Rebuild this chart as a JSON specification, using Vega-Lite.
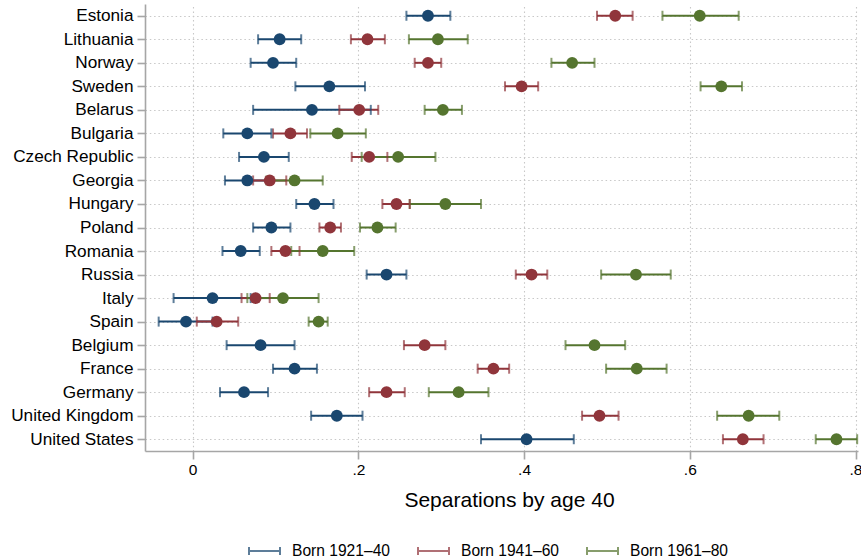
{
  "$schema": "https://vega.github.io/schema/vega-lite/v6.json",
  "width": 713,
  "height": 447,
  "autosize": {"type": "none"},
  "padding": {"left": 145, "top": 4, "right": 3, "bottom": 109},
  "background": "white",
  "config": {
    "view": {"stroke": null},
    "font": "Liberation Sans",
    "axis": {
      "labelFont": "Liberation Sans",
      "titleFont": "Liberation Sans",
      "labelColor": "#000000",
      "titleColor": "#000000",
      "domainColor": "#a6a6a6",
      "domainWidth": 1.6,
      "tickColor": "#a6a6a6",
      "tickWidth": 1.6,
      "gridColor": "#c8c8c8",
      "gridDash": [1.5, 2.8],
      "gridWidth": 1.1
    },
    "legend": {
      "labelFont": "Liberation Sans",
      "labelColor": "#000000"
    }
  },
  "data": {
    "values": [
      {"country": "Estonia", "cohort": "Born 1921–40", "est": 0.284, "lo": 0.258, "hi": 0.311},
      {"country": "Estonia", "cohort": "Born 1941–60", "est": 0.510, "lo": 0.488, "hi": 0.531},
      {"country": "Estonia", "cohort": "Born 1961–80", "est": 0.612, "lo": 0.567, "hi": 0.659},
      {"country": "Lithuania", "cohort": "Born 1921–40", "est": 0.105, "lo": 0.079, "hi": 0.131},
      {"country": "Lithuania", "cohort": "Born 1941–60", "est": 0.211, "lo": 0.191, "hi": 0.232},
      {"country": "Lithuania", "cohort": "Born 1961–80", "est": 0.296, "lo": 0.261, "hi": 0.332},
      {"country": "Norway", "cohort": "Born 1921–40", "est": 0.097, "lo": 0.070, "hi": 0.125},
      {"country": "Norway", "cohort": "Born 1941–60", "est": 0.284, "lo": 0.268, "hi": 0.300},
      {"country": "Norway", "cohort": "Born 1961–80", "est": 0.458, "lo": 0.433, "hi": 0.485},
      {"country": "Sweden", "cohort": "Born 1921–40", "est": 0.165, "lo": 0.124, "hi": 0.208},
      {"country": "Sweden", "cohort": "Born 1941–60", "est": 0.397, "lo": 0.377, "hi": 0.417},
      {"country": "Sweden", "cohort": "Born 1961–80", "est": 0.638, "lo": 0.613, "hi": 0.663},
      {"country": "Belarus", "cohort": "Born 1921–40", "est": 0.144, "lo": 0.073, "hi": 0.215},
      {"country": "Belarus", "cohort": "Born 1941–60", "est": 0.201, "lo": 0.177, "hi": 0.224},
      {"country": "Belarus", "cohort": "Born 1961–80", "est": 0.302, "lo": 0.280, "hi": 0.325},
      {"country": "Bulgaria", "cohort": "Born 1921–40", "est": 0.066, "lo": 0.037, "hi": 0.095},
      {"country": "Bulgaria", "cohort": "Born 1941–60", "est": 0.118, "lo": 0.097, "hi": 0.138},
      {"country": "Bulgaria", "cohort": "Born 1961–80", "est": 0.175, "lo": 0.142, "hi": 0.209},
      {"country": "Czech Republic", "cohort": "Born 1921–40", "est": 0.086, "lo": 0.056, "hi": 0.116},
      {"country": "Czech Republic", "cohort": "Born 1941–60", "est": 0.213, "lo": 0.192, "hi": 0.235},
      {"country": "Czech Republic", "cohort": "Born 1961–80", "est": 0.248, "lo": 0.204, "hi": 0.293},
      {"country": "Georgia", "cohort": "Born 1921–40", "est": 0.066, "lo": 0.039, "hi": 0.092},
      {"country": "Georgia", "cohort": "Born 1941–60", "est": 0.093, "lo": 0.073, "hi": 0.113},
      {"country": "Georgia", "cohort": "Born 1961–80", "est": 0.123, "lo": 0.089, "hi": 0.157},
      {"country": "Hungary", "cohort": "Born 1921–40", "est": 0.147, "lo": 0.125, "hi": 0.170},
      {"country": "Hungary", "cohort": "Born 1941–60", "est": 0.246, "lo": 0.229, "hi": 0.262},
      {"country": "Hungary", "cohort": "Born 1961–80", "est": 0.305, "lo": 0.262, "hi": 0.348},
      {"country": "Poland", "cohort": "Born 1921–40", "est": 0.095, "lo": 0.073, "hi": 0.118},
      {"country": "Poland", "cohort": "Born 1941–60", "est": 0.166, "lo": 0.153, "hi": 0.179},
      {"country": "Poland", "cohort": "Born 1961–80", "est": 0.223, "lo": 0.202, "hi": 0.245},
      {"country": "Romania", "cohort": "Born 1921–40", "est": 0.058, "lo": 0.036, "hi": 0.081},
      {"country": "Romania", "cohort": "Born 1941–60", "est": 0.112, "lo": 0.095, "hi": 0.129},
      {"country": "Romania", "cohort": "Born 1961–80", "est": 0.157, "lo": 0.119, "hi": 0.195},
      {"country": "Russia", "cohort": "Born 1921–40", "est": 0.234, "lo": 0.210, "hi": 0.258},
      {"country": "Russia", "cohort": "Born 1941–60", "est": 0.409, "lo": 0.390, "hi": 0.428},
      {"country": "Russia", "cohort": "Born 1961–80", "est": 0.535, "lo": 0.493, "hi": 0.577},
      {"country": "Italy", "cohort": "Born 1921–40", "est": 0.024, "lo": -0.023, "hi": 0.070},
      {"country": "Italy", "cohort": "Born 1941–60", "est": 0.076, "lo": 0.059, "hi": 0.093},
      {"country": "Italy", "cohort": "Born 1961–80", "est": 0.109, "lo": 0.066, "hi": 0.152},
      {"country": "Spain", "cohort": "Born 1921–40", "est": -0.008, "lo": -0.041, "hi": 0.024},
      {"country": "Spain", "cohort": "Born 1941–60", "est": 0.029, "lo": 0.005, "hi": 0.055},
      {"country": "Spain", "cohort": "Born 1961–80", "est": 0.152, "lo": 0.140, "hi": 0.163},
      {"country": "Belgium", "cohort": "Born 1921–40", "est": 0.082, "lo": 0.041, "hi": 0.123},
      {"country": "Belgium", "cohort": "Born 1941–60", "est": 0.280, "lo": 0.255, "hi": 0.305},
      {"country": "Belgium", "cohort": "Born 1961–80", "est": 0.485, "lo": 0.450, "hi": 0.522},
      {"country": "France", "cohort": "Born 1921–40", "est": 0.123, "lo": 0.097, "hi": 0.150},
      {"country": "France", "cohort": "Born 1941–60", "est": 0.363, "lo": 0.344, "hi": 0.382},
      {"country": "France", "cohort": "Born 1961–80", "est": 0.536, "lo": 0.499, "hi": 0.572},
      {"country": "Germany", "cohort": "Born 1921–40", "est": 0.062, "lo": 0.033, "hi": 0.091},
      {"country": "Germany", "cohort": "Born 1941–60", "est": 0.234, "lo": 0.213, "hi": 0.256},
      {"country": "Germany", "cohort": "Born 1961–80", "est": 0.321, "lo": 0.285, "hi": 0.357},
      {"country": "United Kingdom", "cohort": "Born 1921–40", "est": 0.174, "lo": 0.143, "hi": 0.205},
      {"country": "United Kingdom", "cohort": "Born 1941–60", "est": 0.491, "lo": 0.470, "hi": 0.514},
      {"country": "United Kingdom", "cohort": "Born 1961–80", "est": 0.671, "lo": 0.633, "hi": 0.708},
      {"country": "United States", "cohort": "Born 1921–40", "est": 0.403, "lo": 0.348, "hi": 0.460},
      {"country": "United States", "cohort": "Born 1941–60", "est": 0.664, "lo": 0.640, "hi": 0.689},
      {"country": "United States", "cohort": "Born 1961–80", "est": 0.777, "lo": 0.752, "hi": 0.802}
    ]
  },
  "encoding": {
    "y": {
      "field": "country",
      "type": "nominal",
      "sort": ["Estonia", "Lithuania", "Norway", "Sweden", "Belarus", "Bulgaria", "Czech Republic", "Georgia", "Hungary", "Poland", "Romania", "Russia", "Italy", "Spain", "Belgium", "France", "Germany", "United Kingdom", "United States"],
      "scale": {"type": "point", "padding": 0.5},
      "axis": {
        "title": null,
        "grid": true,
        "tickSize": 8,
        "labelPadding": 4,
        "labelFontSize": 17.2
      }
    },
    "color": {
      "field": "cohort",
      "type": "nominal",
      "scale": {
        "domain": ["Born 1921–40", "Born 1941–60", "Born 1961–80"],
        "range": ["#1a476f", "#90353b", "#55752f"]
      },
      "legend": {
        "title": null,
        "orient": "none",
        "direction": "horizontal",
        "legendX": 103,
        "legendY": 530,
        "labelFontSize": 15.6,
        "labelOffset": 11,
        "columnPadding": 24,
        "symbolType": "M-1,0H1M-1,-0.26V0.26M1,-0.26V0.26",
        "symbolSize": 961,
        "symbolStrokeWidth": 2,
        "symbolFillColor": "transparent"
      }
    }
  },
  "layer": [
    {
      "mark": {"type": "rule", "strokeWidth": 2},
      "encoding": {
        "x": {
          "field": "lo",
          "type": "quantitative",
          "scale": {"domain": [-0.0575, 0.803], "nice": false, "zero": false},
          "axis": {
            "values": [0, 0.2, 0.4, 0.6, 0.8],
            "labelExpr": "datum.value == 0 ? '0' : substring(format(datum.value, '.1f'), 1)",
            "grid": true,
            "tickSize": 8,
            "labelPadding": 3,
            "labelFontSize": 15.5,
            "labelFlush": false,
            "title": "Separations by age 40",
            "titleFontSize": 21,
            "titleFontWeight": "normal",
            "titleX": 364,
            "titleY": 55,
            "titleBaseline": "alphabetic"
          }
        },
        "x2": {"field": "hi"}
      }
    },
    {
      "mark": {"type": "tick", "thickness": 2, "size": 10},
      "encoding": {
        "x": {"field": "lo", "type": "quantitative"}
      }
    },
    {
      "mark": {"type": "tick", "thickness": 2, "size": 10},
      "encoding": {
        "x": {"field": "hi", "type": "quantitative"}
      }
    },
    {
      "mark": {"type": "circle", "size": 140, "opacity": 1},
      "encoding": {
        "x": {"field": "est", "type": "quantitative"}
      }
    }
  ]
}
